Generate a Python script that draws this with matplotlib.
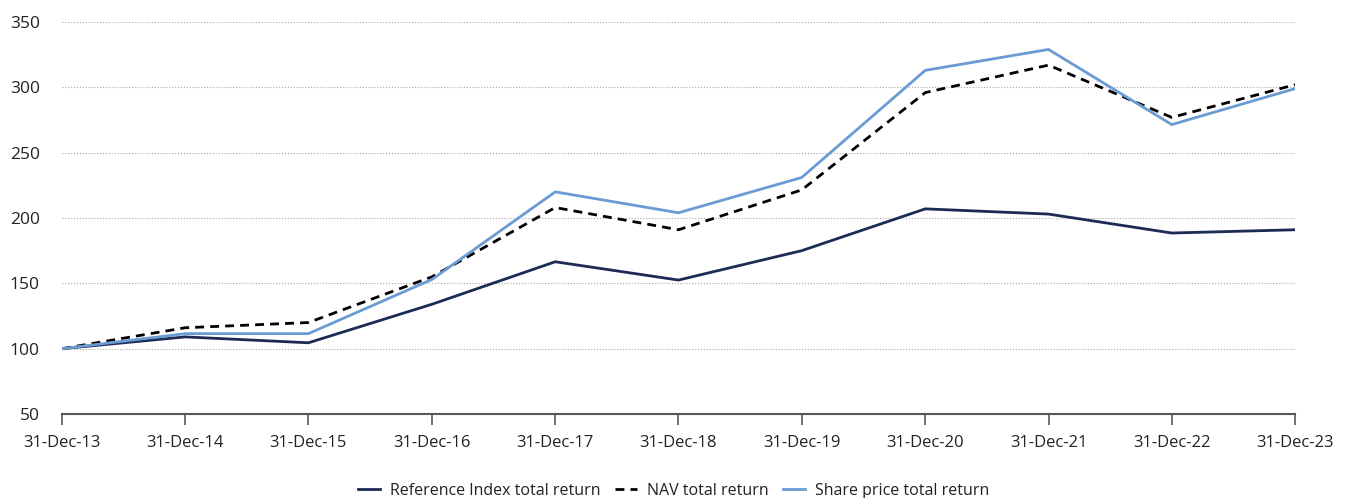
import matplotlib
matplotlib.use("Agg")
import matplotlib.pyplot as plt
import matplotlib.dates as mdates
import pandas as pd

# values (rebased to 100)
dates = pd.to_datetime([f"{y}-12-31" for y in range(2013, 2024)])
reference_index = [100, 109, 104.5, 134, 166.5, 152.5, 175, 207, 203, 188.5, 191]
nav_total = [100, 116, 120, 155, 208, 191, 221.5, 296, 317, 277, 302]
share_price = [100, 111.5, 111.5, 153, 220, 204, 231, 313, 329, 271.5, 299]

plt.rcParams['font.family'] = ['Open Sans', 'DejaVu Sans']

fig = plt.figure(figsize=(13.47, 4.98), dpi=100)
ax = fig.add_axes([0.046, 0.1687, 0.9154, 0.7871])

ax.plot(dates, reference_index, color='#1c2b55', lw=2.0, label='Reference Index total return')
ax.plot(dates, nav_total, color='black', lw=2.0, ls=(0, (3.2, 2.2)), label='NAV total return')
ax.plot(dates, share_price, color='#6a9bd3', lw=2.0, label='Share price total return')

ax.set_ylim(50, 350)
ax.set_yticks(range(50, 351, 50))
ax.set_xlim(dates[0], dates[-1])
ax.set_xticks(dates)
ax.xaxis.set_major_formatter(mdates.DateFormatter('%d-%b-%y'))

ax.grid(axis='y', color='#a8a8a8', ls=(0, (1, 1.6)), lw=0.8)
ax.set_axisbelow(True)
for s in ['left', 'right', 'top']:
    ax.spines[s].set_visible(False)
ax.spines['bottom'].set_color('#595959')
ax.spines['bottom'].set_linewidth(1.5)

ax.tick_params(axis='y', length=0, pad=16, labelsize=12.5, colors='#222222')
ax.tick_params(axis='x', length=8, width=1.2, color='#595959', pad=7, labelsize=12, labelcolor='#222222')

leg = fig.legend(loc='lower center', bbox_to_anchor=(0.5, -0.03), ncol=3, frameon=False,
                 fontsize=11.5, handlelength=1.4, columnspacing=0.9, handletextpad=0.6)
for t in leg.get_texts():
    t.set_color('#222222')

fig.savefig('out.png', dpi=100)
